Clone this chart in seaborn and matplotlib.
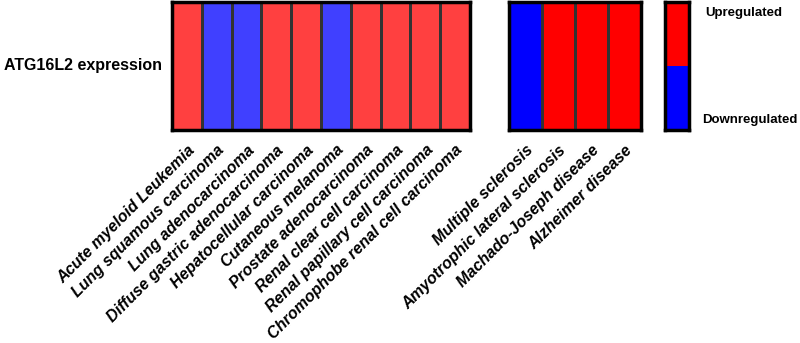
import numpy as np
import pandas as pd
import seaborn as sns
import matplotlib.pyplot as plt
from matplotlib.colors import ListedColormap

# 1 = upregulated, 0 = downregulated
cancers = ['Acute myeloid Leukemia', 'Lung squamous carcinoma', 'Lung adenocarcinoma',
           'Diffuse gastric adenocarcinoma', 'Hepatocellular carcinoma', 'Cutaneous melanoma',
           'Prostate adenocarcinoma', 'Renal clear cell carcinoma', 'Renal papillary cell carcinoma',
           'Chromophobe renal cell carcinoma']
cancer_vals = [1, 0, 0, 1, 1, 0, 1, 1, 1, 1]
diseases = ['Multiple sclerosis', 'Amyotrophic lateral sclerosis',
            'Machado-Joseph disease', 'Alzheimer disease']
disease_vals = [0, 1, 1, 1]
gene = 'ATG16L2 expression'

sns.set_style('white')
plt.rcParams['font.family'] = ['Liberation Sans', 'DejaVu Sans']
plt.rcParams['text.color'] = 'black'
plt.rcParams['xtick.color'] = 'black'
plt.rcParams['ytick.color'] = 'black'

fig = plt.figure(figsize=(8, 3.43), dpi=100)
H = 343.0
top = 1 - 1.5 / H
bot = (H - 130) / H

ax1 = fig.add_axes([172 / 800, bot, (470 - 172) / 800, top - bot])
ax2 = fig.add_axes([509 / 800, bot, 132 / 800, top - bot])
ax3 = fig.add_axes([665 / 800, bot, 24 / 800, top - bot])

light = ListedColormap(['#4040ff', '#ff4040'])
pure = ListedColormap(['#0000ff', '#ff0000'])

df1 = pd.DataFrame([cancer_vals], columns=cancers, index=[gene])
df2 = pd.DataFrame([disease_vals], columns=diseases, index=[gene])
sns.heatmap(df1, ax=ax1, cmap=light, vmin=0, vmax=1, cbar=False,
            linewidths=0.8, linecolor='#333333')
sns.heatmap(df2, ax=ax2, cmap=pure, vmin=0, vmax=1, cbar=False,
            linewidths=0.8, linecolor='#333333')
sns.heatmap(pd.DataFrame([[1], [0]]), ax=ax3, cmap=pure, vmin=0, vmax=1, cbar=False)

for ax in (ax1, ax2, ax3):
    for s in ax.spines.values():
        s.set_visible(True)
        s.set_linewidth(2.5)
        s.set_color('black')

for ax in (ax1, ax2):
    ax.set_xticklabels(ax.get_xticklabels(), rotation=45, ha='right',
                       rotation_mode='anchor', fontsize=11.5, fontweight='bold',
                       fontstyle='italic', color='black')
    ax.tick_params(axis='x', length=5, width=2, color='black', pad=4)
    ax.set_xlabel('')
    ax.set_ylabel('')

ax1.set_yticklabels([gene], rotation=0, fontsize=11.5, fontweight='bold', color='black')
ax1.tick_params(axis='y', length=5, width=2, color='black', pad=2)
ax2.set_yticks([])
ax3.set_xticks([])
ax3.set_yticks([])
ax3.text(1.67, 0.18, 'Upregulated', fontsize=9.5, fontweight='bold', va='center', ha='left')
ax3.text(1.55, 1.85, 'Downregulated', fontsize=9.5, fontweight='bold', va='center', ha='left')

fig.savefig('out.png', dpi=100)
